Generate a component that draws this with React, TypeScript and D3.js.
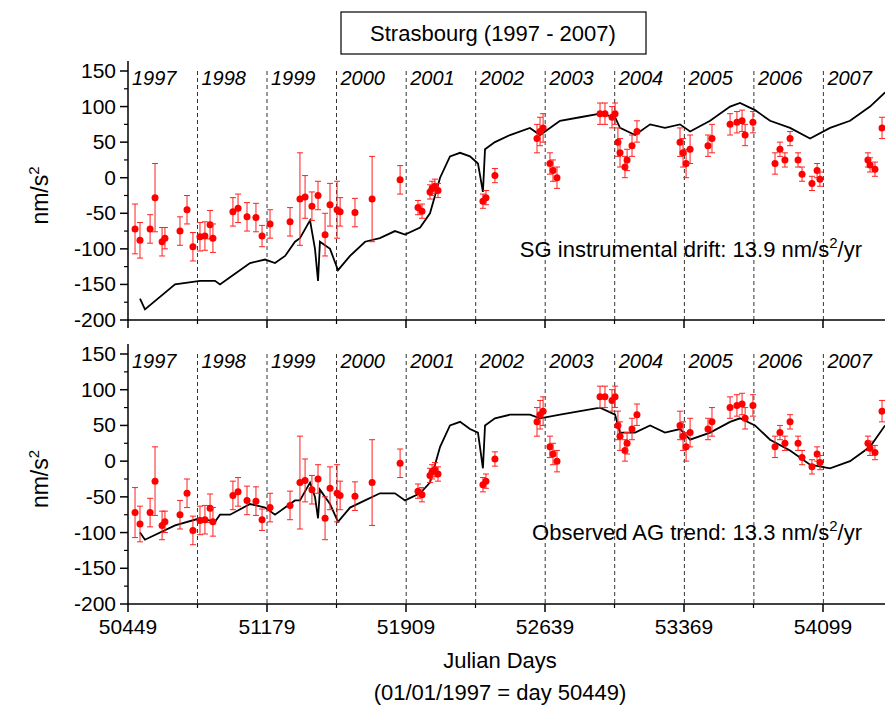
import * as React from 'react';
import * as d3 from 'd3';

const dayTicks = [50449, 51179, 51909, 52639, 53369, 54099];
const yearLines = [50814, 51179, 51544, 51910, 52275, 52640, 53005, 53371, 53736, 54101];
const yearLabels = ['1997', '1998', '1999', '2000', '2001', '2002', '2003', '2004', '2005', '2006', '2007'];
const yearStarts = [50449, 50814, 51179, 51544, 51910, 52275, 52640, 53005, 53371, 53736, 54101];
const yTicks = [150, 100, 50, 0, -50, -100, -150, -200];

const lineDays = [50512, 50538, 50696, 50827, 50906, 50932, 50985, 51090, 51169, 51221, 51274, 51326, 51352, 51405, 51431, 51447, 51457, 51510, 51552, 51615, 51694, 51772, 51851, 51904, 51983, 52035, 52088, 52140, 52193, 52245, 52287, 52313, 52324, 52376, 52455, 52560, 52613, 52718, 52823, 52928, 53007, 53033, 53112, 53191, 53269, 53348, 53401, 53506, 53611, 53663, 53742, 53821, 53926, 54031, 54136, 54241, 54346, 54425];
const sgDrift = [-170, -185, -150, -145, -145, -150, -140, -120, -115, -120, -110, -90, -85, -60, -100, -145, -90, -100, -130, -110, -90, -85, -75, -80, -70, -50, 0, 30, 35, 30, 20, -20, 40, 50, 60, 70, 60, 80, 85, 90, 85, 70, 60, 75, 70, 75, 65, 80, 100, 105, 95, 80, 70, 55, 70, 80, 100, 120];
const agTrend = [-100, -110, -90, -80, -85, -75, -75, -60, -65, -75, -65, -55, -55, -30, -50, -80, -40, -60, -85, -65, -55, -45, -45, -55, -45, -30, 20, 50, 55, 45, 40, -10, 50, 60, 65, 65, 60, 65, 70, 75, 65, 40, 40, 50, 40, 45, 30, 40, 55, 60, 50, 30, 15, -5, -10, 0, 20, 50];

const agDays = [50486, 50512, 50565, 50591, 50628, 50643, 50722, 50759, 50790, 50827, 50853, 50880, 50895, 51000, 51027, 51074, 51121, 51153, 51195, 51300, 51352, 51379, 51415, 51447, 51484, 51510, 51547, 51563, 51641, 51731, 51878, 51972, 51993, 52035, 52046, 52061, 52077, 52313, 52329, 52376, 52597, 52613, 52629, 52665, 52681, 52702, 52928, 52954, 52991, 53007, 53022, 53033, 53059, 53070, 53096, 53122, 53348, 53364, 53380, 53401, 53495, 53516, 53611, 53647, 53674, 53690, 53731, 53847, 53873, 53899, 53926, 53968, 53989, 54041, 54068, 54083, 54335, 54346, 54372, 54409];
const agValues = [-72, -88, -72, -28, -90, -85, -75, -45, -97, -83, -82, -66, -85, -48, -43, -55, -56, -82, -65, -62, -30, -27, -40, -25, -80, -38, -45, -48, -49, -30, -3, -42, -47, -20, -15, -12, -18, -33, -28, 3, 55, 65, 70, 20, 10, 0, 90, 90, 85, 90, 50, 35, 15, 25, 45, 65, 50, 35, 20, 40, 45, 55, 75, 78, 80, 60, 78, 20, 40, 25, 55, 25, 5, -8, 10, -2, 25, 18, 12, 70];
const agErrors = [35, 25, 20, 48, 20, 15, 20, 20, 20, 20, 20, 20, 20, 20, 20, 20, 20, 15, 20, 20, 65, 30, 20, 20, 30, 30, 40, 20, 20, 60, 20, 10, 10, 10, 10, 10, 10, 10, 10, 10, 20, 20, 20, 15, 15, 15, 15, 15, 15, 15, 20, 20, 15, 15, 15, 15, 20, 20, 20, 20, 15, 20, 15, 15, 15, 15, 15, 15, 10, 10, 10, 10, 10, 10, 10, 10, 10, 10, 10, 15];

const W = 885, H = 713;
const left = 128, right = 885;
const font = 'Liberation Sans, Arial, sans-serif';

const x = d3.scaleLinear().domain([50449, 54099]).range([128, 823]);

function Panel({ top, bottom, series, label, idp, showLabels }: any) {
  const y = d3.scaleLinear().domain([-200, 150]).range([bottom, top]);
  const line = d3.line<number>().x((_, i) => x(lineDays[i])).y(d => y(d));
  const minorY = d3.range(-175, 150, 50);
  const minorX = dayTicks.map(d => d + 365);
  return (
    <g>
      <defs>
        <clipPath id={idp}><rect x={left} y={top - 12} width={right - left} height={bottom - top + 12} /></clipPath>
      </defs>
      {yearLines.map(d => (
        <line key={d} x1={x(d)} x2={x(d)} y1={top} y2={bottom} stroke="#000" strokeWidth={0.8} strokeDasharray="4,3" />
      ))}
      {yearLabels.map((t, i) => (
        <text key={t} x={x(yearStarts[i]) + 4} y={top + 14} fontSize={20} fontStyle="italic" fontFamily={font}>{t}</text>
      ))}
      <g clipPath={`url(#${idp})`}>
        <path d={line(series) || ''} fill="none" stroke="#000" strokeWidth={1.8} />
        {agDays.map((d, i) => (
          <g key={i} stroke="#ff2020" strokeWidth={1}>
            <line x1={x(d)} x2={x(d)} y1={y(agValues[i] - agErrors[i])} y2={y(agValues[i] + agErrors[i])} />
            <line x1={x(d) - 3} x2={x(d) + 3} y1={y(agValues[i] - agErrors[i])} y2={y(agValues[i] - agErrors[i])} />
            <line x1={x(d) - 3} x2={x(d) + 3} y1={y(agValues[i] + agErrors[i])} y2={y(agValues[i] + agErrors[i])} />
            <circle cx={x(d)} cy={y(agValues[i])} r={3.5} fill="#ff0000" stroke="none" />
          </g>
        ))}
      </g>
      <line x1={left} x2={left} y1={top - 10} y2={bottom} stroke="#000" strokeWidth={1.5} />
      <line x1={left} x2={right} y1={bottom} y2={bottom} stroke="#000" strokeWidth={1.5} />
      {yTicks.map(v => (
        <g key={v}>
          <line x1={left - 8} x2={left} y1={y(v)} y2={y(v)} stroke="#000" strokeWidth={1.5} />
          <text x={left - 12} y={y(v) + 7} fontSize={21} textAnchor="end" fontFamily={font}>{v}</text>
        </g>
      ))}
      {minorY.map(v => (
        <line key={v} x1={left - 4} x2={left} y1={y(v)} y2={y(v)} stroke="#000" strokeWidth={1.2} />
      ))}
      {dayTicks.map(d => (
        <g key={d}>
          <line x1={x(d)} x2={x(d)} y1={bottom} y2={bottom + 8} stroke="#000" strokeWidth={1.5} />
          {showLabels && <text x={x(d)} y={bottom + 30} fontSize={21} textAnchor="middle" fontFamily={font}>{d}</text>}
        </g>
      ))}
      {minorX.map(d => (
        <line key={d} x1={x(d)} x2={x(d)} y1={bottom} y2={bottom + 4} stroke="#000" strokeWidth={1.2} />
      ))}
      <text transform={`translate(48,${(top + bottom) / 2}) rotate(-90)`} fontSize={23} textAnchor="middle" fontFamily={font}>
        nm/s<tspan dy={-9} fontSize={15}>2</tspan>
      </text>
      <text x={862} y={top + 186} fontSize={22} textAnchor="end" fontFamily={font}>
        {label}<tspan dy={-9} fontSize={15}>2</tspan><tspan dy={9}>/yr</tspan>
      </text>
    </g>
  );
}

export default function App() {
  return (
    <svg width={W} height={H} style={{ display: 'block', position: 'absolute', left: 0, top: 0 }}>
      <rect width={W} height={H} fill="#fff" />
      <rect x={341} y={12} width={305} height={42} fill="#fff" stroke="#000" strokeWidth={1.2} />
      <text x={493} y={41} fontSize={22} textAnchor="middle" fontFamily={font}>Strasbourg (1997 - 2007)</text>
      <Panel top={71} bottom={320} series={sgDrift} label="SG instrumental drift: 13.9 nm/s" idp="c1" showLabels={false} />
      <Panel top={354} bottom={604} series={agTrend} label="Observed AG trend: 13.3 nm/s" idp="c2" showLabels={true} />
      <text x={500} y={668} fontSize={22} textAnchor="middle" fontFamily={font}>Julian Days</text>
      <text x={500} y={700} fontSize={22} textAnchor="middle" fontFamily={font}>(01/01/1997 = day 50449)</text>
    </svg>
  );
}
